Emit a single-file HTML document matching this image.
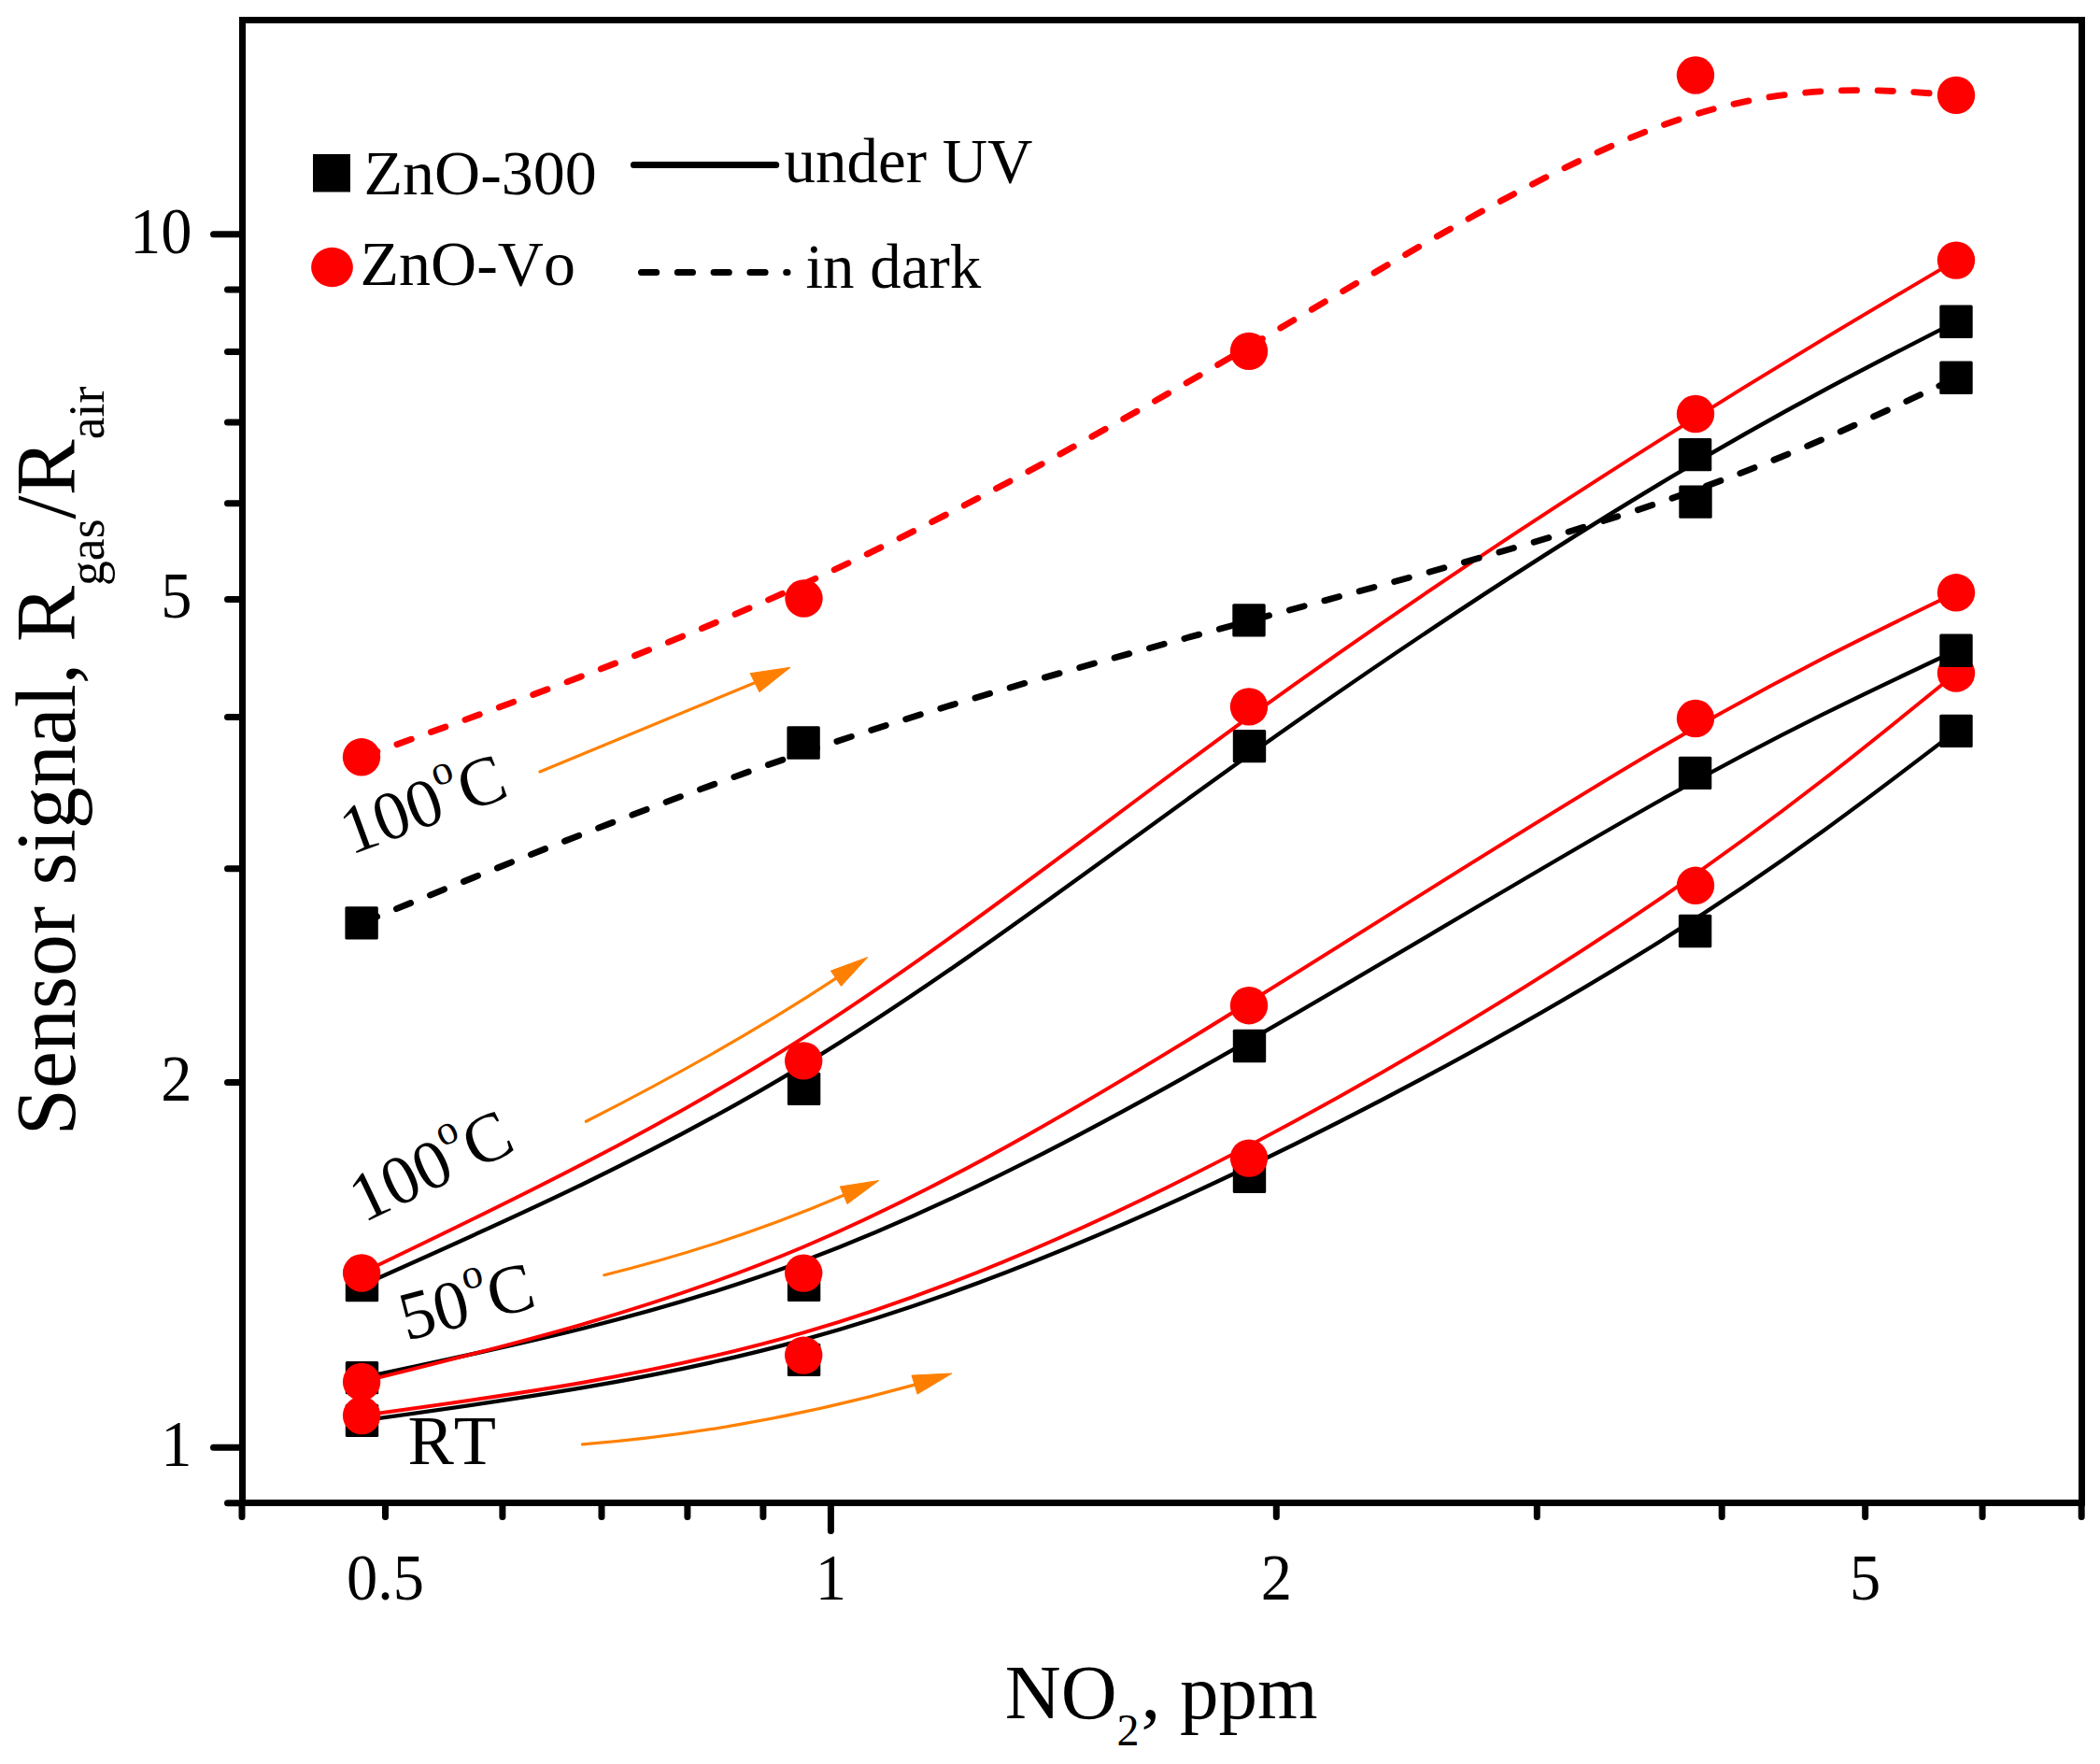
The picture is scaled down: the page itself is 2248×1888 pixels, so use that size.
<!DOCTYPE html>
<html lang="en"><head><meta charset="utf-8"><title>Sensor signal vs NO2 concentration</title>
<style>html,body{margin:0;padding:0;background:#fff}svg{display:block}text{font-family:"Liberation Serif", "Times New Roman", serif;fill:#000;font-kerning:none}</style></head><body>
<svg width="2248" height="1888" viewBox="0 0 2248 1888">
<rect x="0" y="0" width="2248" height="1888" fill="#fff"/>
<g fill="none" stroke-linejoin="round">
<path d="M387.50 1520.40 C545.20 1498.73 702.90 1477.07 861.23 1433.57 C1019.57 1390.07 1178.53 1324.73 1337.53 1248.25 C1496.53 1171.77 1655.57 1084.13 1781.65 1004.63 C1907.73 925.13 2000.87 853.77 2094.00 782.40" stroke="#000000" stroke-width="4.3"/>
<rect x="369.8" y="1502.7" width="35.4" height="35.4" rx="1.5" fill="#000000"/>
<rect x="842.9" y="1437.7" width="35.4" height="35.4" rx="1.5" fill="#000000"/>
<rect x="1319.8" y="1241.7" width="35.4" height="35.4" rx="1.5" fill="#000000"/>
<rect x="1796.9" y="978.8" width="35.4" height="35.4" rx="1.5" fill="#000000"/>
<rect x="2076.3" y="764.7" width="35.4" height="35.4" rx="1.5" fill="#000000"/>
<path d="M387.10 1515.00 C544.80 1493.53 702.50 1472.07 860.82 1426.17 C1019.13 1380.27 1178.07 1309.93 1337.20 1226.13 C1496.33 1142.33 1655.67 1045.07 1781.83 958.55 C1908.00 872.03 2001.00 796.27 2094.00 720.50" stroke="#ff0000" stroke-width="3.9"/>
<circle cx="387.1" cy="1515.0" r="20.2" fill="#ff0000"/>
<circle cx="860.2" cy="1450.6" r="20.2" fill="#ff0000"/>
<circle cx="1337.0" cy="1239.6" r="20.2" fill="#ff0000"/>
<circle cx="1815.0" cy="947.8" r="20.2" fill="#ff0000"/>
<circle cx="2094.0" cy="720.5" r="20.2" fill="#ff0000"/>
<path d="M387.50 1474.60 C545.20 1441.53 702.90 1408.47 861.23 1349.28 C1019.57 1290.10 1178.53 1204.80 1337.53 1113.47 C1496.53 1022.13 1655.57 924.77 1781.65 854.22 C1907.73 783.67 2000.87 739.93 2094.00 696.20" stroke="#000000" stroke-width="4.3"/>
<rect x="369.8" y="1456.9" width="35.4" height="35.4" rx="1.5" fill="#000000"/>
<rect x="842.9" y="1357.7" width="35.4" height="35.4" rx="1.5" fill="#000000"/>
<rect x="1319.8" y="1101.8" width="35.4" height="35.4" rx="1.5" fill="#000000"/>
<rect x="1796.9" y="809.7" width="35.4" height="35.4" rx="1.5" fill="#000000"/>
<rect x="2076.3" y="678.5" width="35.4" height="35.4" rx="1.5" fill="#000000"/>
<path d="M387.10 1479.00 C544.80 1440.20 702.50 1401.40 860.82 1334.27 C1019.13 1267.13 1178.07 1171.67 1337.20 1072.73 C1496.33 973.80 1655.67 871.40 1781.83 797.75 C1908.00 724.10 2001.00 679.20 2094.00 634.30" stroke="#ff0000" stroke-width="3.9"/>
<circle cx="387.1" cy="1479.0" r="20.2" fill="#ff0000"/>
<circle cx="860.2" cy="1362.6" r="20.2" fill="#ff0000"/>
<circle cx="1337.0" cy="1076.2" r="20.2" fill="#ff0000"/>
<circle cx="1815.0" cy="769.0" r="20.2" fill="#ff0000"/>
<circle cx="2094.0" cy="634.3" r="20.2" fill="#ff0000"/>
<path d="M387.50 1375.60 C545.20 1305.53 702.90 1235.47 861.23 1139.30 C1019.57 1043.13 1178.53 920.87 1337.53 807.73 C1496.53 694.60 1655.57 590.60 1781.65 514.88 C1907.73 439.17 2000.87 391.73 2094.00 344.30" stroke="#000000" stroke-width="4.3"/>
<rect x="369.8" y="1357.9" width="35.4" height="35.4" rx="1.5" fill="#000000"/>
<rect x="842.9" y="1147.7" width="35.4" height="35.4" rx="1.5" fill="#000000"/>
<rect x="1319.8" y="780.9" width="35.4" height="35.4" rx="1.5" fill="#000000"/>
<rect x="1796.9" y="468.9" width="35.4" height="35.4" rx="1.5" fill="#000000"/>
<rect x="2076.3" y="326.6" width="35.4" height="35.4" rx="1.5" fill="#000000"/>
<path d="M387.10 1362.50 C544.80 1286.80 702.50 1211.10 860.82 1110.08 C1019.13 1009.07 1178.07 882.73 1337.20 767.33 C1496.33 651.93 1655.67 547.47 1781.83 467.83 C1908.00 388.20 2001.00 333.40 2094.00 278.60" stroke="#ff0000" stroke-width="3.9"/>
<circle cx="387.1" cy="1362.5" r="20.2" fill="#ff0000"/>
<circle cx="860.2" cy="1135.4" r="20.2" fill="#ff0000"/>
<circle cx="1337.0" cy="756.4" r="20.2" fill="#ff0000"/>
<circle cx="1815.0" cy="443.0" r="20.2" fill="#ff0000"/>
<circle cx="2094.0" cy="278.6" r="20.2" fill="#ff0000"/>
<path d="M387.10 987.90 C544.77 923.60 702.43 859.30 860.75 805.30 C1019.07 751.30 1178.03 707.60 1337.18 664.62 C1496.33 621.63 1655.67 579.37 1781.83 536.10 C1908.00 492.83 2001.00 448.57 2094.00 404.30" stroke="#000000" stroke-width="6.8" stroke-linecap="round" stroke-dasharray="16.4 22.4" stroke-dashoffset="-1.5"/>
<rect x="369.4" y="970.2" width="35.4" height="35.4" rx="1.5" fill="#000000"/>
<rect x="842.4" y="777.3" width="35.4" height="35.4" rx="1.5" fill="#000000"/>
<rect x="1319.3" y="646.2" width="35.4" height="35.4" rx="1.5" fill="#000000"/>
<rect x="1797.3" y="519.4" width="35.4" height="35.4" rx="1.5" fill="#000000"/>
<rect x="2076.3" y="386.6" width="35.4" height="35.4" rx="1.5" fill="#000000"/>
<path d="M387.00 810.30 C544.83 753.70 702.67 697.10 861.00 624.70 C1019.33 552.30 1178.17 464.10 1337.25 370.77 C1496.33 277.43 1655.67 178.97 1781.83 133.30 C1908.00 87.63 2001.00 94.77 2094.00 101.90" stroke="#ff0000" stroke-width="6.8" stroke-linecap="round" stroke-dasharray="16.4 22.4" stroke-dashoffset="-1.5"/>
<circle cx="387.0" cy="810.3" r="20.2" fill="#ff0000"/>
<circle cx="860.5" cy="640.5" r="20.2" fill="#ff0000"/>
<circle cx="1337.0" cy="375.9" r="20.2" fill="#ff0000"/>
<circle cx="1815.0" cy="80.5" r="20.2" fill="#ff0000"/>
<circle cx="2094.0" cy="101.9" r="20.2" fill="#ff0000"/>
</g>
<g>
<path d="M578.0 826.0 Q693.0 778.4 808.0 730.7" fill="none" stroke="#ff8000" stroke-width="3.2" stroke-linecap="round"/><path d="M846.0 714.3 L803.1 720.7 L812.9 740.7 Z" fill="#ff8000" stroke="#ff8000" stroke-width="1" stroke-linejoin="round"/>
<path d="M627.4 1200.3 Q783.0 1121.0 894.9 1047.2" fill="none" stroke="#ff8000" stroke-width="3.2" stroke-linecap="round"/><path d="M928.8 1024.6 L889.4 1039.1 L900.4 1055.4 Z" fill="#ff8000" stroke="#ff8000" stroke-width="1" stroke-linejoin="round"/>
<path d="M646.8 1364.7 Q780.0 1332.0 903.1 1279.3" fill="none" stroke="#ff8000" stroke-width="3.2" stroke-linecap="round"/><path d="M940.7 1263.6 L899.3 1270.0 L907.0 1288.6 Z" fill="#ff8000" stroke="#ff8000" stroke-width="1" stroke-linejoin="round"/>
<path d="M623.4 1545.9 Q800.0 1532.0 979.0 1482.1" fill="none" stroke="#ff8000" stroke-width="3.2" stroke-linecap="round"/><path d="M1018.9 1470.0 L976.0 1472.1 L982.1 1492.1 Z" fill="#ff8000" stroke="#ff8000" stroke-width="1" stroke-linejoin="round"/>
</g>
<g stroke="#000" stroke-width="7" fill="none" stroke-linecap="round">
<rect x="259.5" y="21.5" width="1969" height="1587" stroke-linejoin="miter"/>
<line x1="259.5" x2="243.5" y1="1608.7" y2="1608.7"/>
<line x1="259.5" x2="243.5" y1="1158.4" y2="1158.4"/>
<line x1="259.5" x2="243.5" y1="929.7" y2="929.7"/>
<line x1="259.5" x2="243.5" y1="767.5" y2="767.5"/>
<line x1="259.5" x2="243.5" y1="641.6" y2="641.6"/>
<line x1="259.5" x2="243.5" y1="538.8" y2="538.8"/>
<line x1="259.5" x2="243.5" y1="451.9" y2="451.9"/>
<line x1="259.5" x2="243.5" y1="376.5" y2="376.5"/>
<line x1="259.5" x2="243.5" y1="310.1" y2="310.1"/>
<line x1="259.5" x2="228.5" y1="1549.3" y2="1549.3"/>
<line x1="259.5" x2="228.5" y1="250.7" y2="250.7"/>
<line y1="1608.5" y2="1623.5" x1="259.0" x2="259.0"/>
<line y1="1608.5" y2="1623.5" x1="412.5" x2="412.5"/>
<line y1="1608.5" y2="1623.5" x1="537.9" x2="537.9"/>
<line y1="1608.5" y2="1623.5" x1="644.0" x2="644.0"/>
<line y1="1608.5" y2="1623.5" x1="735.9" x2="735.9"/>
<line y1="1608.5" y2="1623.5" x1="816.9" x2="816.9"/>
<line y1="1608.5" y2="1623.5" x1="1366.3" x2="1366.3"/>
<line y1="1608.5" y2="1623.5" x1="1645.3" x2="1645.3"/>
<line y1="1608.5" y2="1623.5" x1="1843.2" x2="1843.2"/>
<line y1="1608.5" y2="1623.5" x1="1996.7" x2="1996.7"/>
<line y1="1608.5" y2="1623.5" x1="2122.1" x2="2122.1"/>
<line y1="1608.5" y2="1623.5" x1="2228.2" x2="2228.2"/>
<line y1="1608.5" y2="1638.5" x1="889.4" x2="889.4"/>
</g>
<g font-size="70">
<text transform="translate(205.5 270.5) scale(0.95 1)" text-anchor="end">10</text>
<text transform="translate(205.5 661.4) scale(0.95 1)" text-anchor="end">5</text>
<text transform="translate(205.5 1178.2) scale(0.95 1)" text-anchor="end">2</text>
<text transform="translate(205.5 1569.1) scale(0.95 1)" text-anchor="end">1</text>
<text transform="translate(412.5 1711.5) scale(0.95 1)" text-anchor="middle">0.5</text>
<text transform="translate(889.4 1711.5) scale(0.95 1)" text-anchor="middle">1</text>
<text transform="translate(1366.3 1711.5) scale(0.95 1)" text-anchor="middle">2</text>
<text transform="translate(1996.7 1711.5) scale(0.95 1)" text-anchor="middle">5</text>
</g>
<text transform="translate(80 1215.2) rotate(-90) scale(0.985 1)" font-size="91.5">Sensor signal, R<tspan font-size="54.5" dy="31">gas</tspan><tspan dy="-31">/R</tspan><tspan font-size="54.5" dy="31">air</tspan></text>
<text x="1075.7" y="1839" font-size="83">NO<tspan font-size="48" dy="28.6">2</tspan><tspan dy="-28.6" dx="2">, ppm</tspan></text>
<rect x="335" y="165" width="40" height="40.5" fill="#000"/>
<ellipse cx="355.5" cy="286" rx="22.4" ry="21.2" fill="#ff0000"/>
<g font-size="68">
<text x="389.5" y="208">ZnO-300</text>
<text x="385.5" y="305">ZnO-Vo</text>
<text transform="translate(839.5 194.5) scale(0.985 1)">under UV</text>
<text transform="translate(862.5 308.4) scale(0.985 1)">in dark</text>
</g>
<line x1="678.4" x2="830.7" y1="176.5" y2="176.5" stroke="#000" stroke-width="7" stroke-linecap="round"/>
<line x1="686.5" x2="843" y1="291.5" y2="291.5" stroke="#000" stroke-width="7" stroke-linecap="round" stroke-dasharray="16.2 22.6"/>
<text transform="translate(375.4 915.2) rotate(-20.2)" font-size="74">100<tspan font-size="45" dy="-37">o</tspan><tspan dy="37">C</tspan></text>
<text transform="translate(389.2 1309.1) rotate(-25.5)" font-size="74">100<tspan font-size="45" dy="-37">o</tspan><tspan dy="37">C</tspan></text>
<text transform="translate(435.0 1435.0) rotate(-14.5)" font-size="74">50<tspan font-size="45" dy="-37">o</tspan><tspan dy="37">C</tspan></text>
<text x="436.4" y="1567.4" font-size="74">RT</text>
</svg></body></html>
